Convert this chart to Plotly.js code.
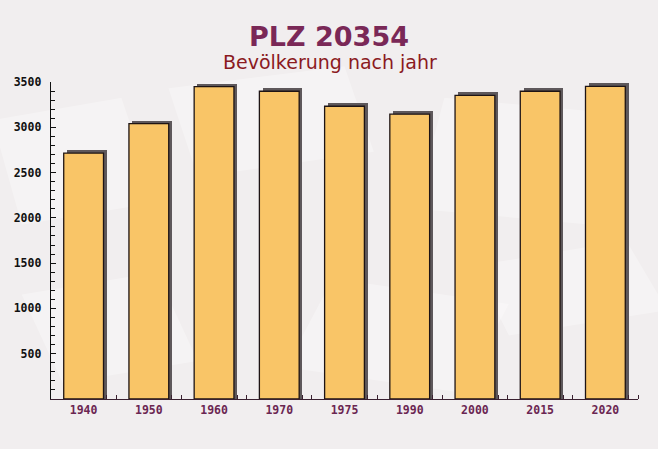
<!DOCTYPE html>
<html>
<head>
<meta charset="utf-8">
<script src="https://cdn.plot.ly/plotly-3.0.1.min.js"></script>
<style>
html,body{margin:0;padding:0;background:#f2eff0;}
#chart{width:658px;height:449px;}
</style>
</head>
<body>
<div id="chart"></div>
<script>
const years = ["1940","1950","1960","1970","1975","1990","2000","2015","2020"];
const population = [2715, 3040, 3450, 3398, 3232, 3145, 3352, 3398, 3452];
const titleText = "PLZ 20354";
const subtitleText = "Bevölkerung nach jahr";

const idx = years.map((_, i) => i);
const barWidth = 0.61;
const shadowDx = 0.05;   // in category units
const shadowDy = 33;     // in value units

const shadow = {
  type: "bar",
  x: idx.map(i => i + shadowDx),
  y: population.map(v => v + shadowDy),
  width: barWidth,
  marker: {color: "#5e585b", line: {width: 0}},
  hoverinfo: "skip",
  showlegend: false
};
const bars = {
  type: "bar",
  x: idx,
  y: population,
  width: barWidth,
  marker: {color: "#f9c567", line: {color: "#1e1414", width: 1.3}},
  showlegend: false
};

const minorX = [];
idx.forEach(i => { minorX.push(i + barWidth / 2 + shadowDx); minorX.push(i + 0.5); });

// faint decorative background sheets (paper coordinates, behind everything)
const deco = [
  "M -0.05 0.55 L 0.18 0.62 L 0.12 0.95 L -0.1 0.88 Z",
  "M 0.25 0.70 L 0.55 0.78 L 0.50 1.05 L 0.20 0.98 Z",
  "M 0.62 0.60 L 0.92 0.55 L 0.97 0.90 L 0.67 0.95 Z",
  "M 0.02 0.05 L 0.25 0.12 L 0.18 0.40 L -0.05 0.33 Z",
  "M 0.40 0.10 L 0.70 0.02 L 0.78 0.30 L 0.48 0.38 Z",
  "M 0.78 0.20 L 1.05 0.28 L 0.98 0.50 L 0.72 0.42 Z"
].map(p => ({type: "path", path: p, xref: "paper", yref: "paper", layer: "below",
             fillcolor: "rgba(255,255,255,0.3)", line: {width: 0}}));

const layout = {
  width: 658, height: 449,
  paper_bgcolor: "#f1eeef",
  plot_bgcolor: "rgba(0,0,0,0)",
  margin: {l: 51, r: 20, t: 82, b: 50},
  barmode: "overlay",
  bargap: 0,
  shapes: deco,
  title: {
    text: "<b>" + titleText + "</b>",
    font: {family: "DejaVu Sans", size: 27, color: "#7a2857"},
    x: 0.5, xref: "container", xanchor: "center",
    y: 1 - 37 / 449, yref: "container", yanchor: "middle"
  },
  annotations: [{
    text: subtitleText,
    xref: "paper", yref: "paper",
    x: 0.475, y: (399 - 62.5) / 317, xanchor: "center", yanchor: "middle",
    showarrow: false,
    font: {family: "DejaVu Sans", size: 19, color: "#8b1a1e"}
  }],
  xaxis: {
    type: "linear",
    range: [-0.5, 8.5],
    tickvals: idx,
    ticktext: years,
    ticks: "",
    showgrid: false,
    zeroline: false,
    showline: true,
    linecolor: "#3a2030",
    linewidth: 1.3,
    tickfont: {family: "DejaVu Sans Mono", size: 11.5, color: "#6b2652", weight: "bold"},
    minor: {tickvals: minorX, ticks: "inside", ticklen: 4, tickcolor: "#3a2030", showgrid: false},
    fixedrange: true
  },
  yaxis: {
    range: [0, 3500],
    tickvals: [500, 1000, 1500, 2000, 2500, 3000, 3500],
    ticks: "inside",
    ticklen: 5,
    tickcolor: "#111",
    showgrid: false,
    zeroline: false,
    showline: true,
    linecolor: "#111",
    linewidth: 1.3,
    ticklabelstandoff: 6,
    tickfont: {family: "DejaVu Sans Mono", size: 11.5, color: "#111", weight: "bold"},
    minor: {dtick: 100, tick0: 0, ticks: "inside", ticklen: 3.5, tickcolor: "#111", showgrid: false},
    fixedrange: true
  }
};

Plotly.newPlot("chart", [shadow, bars], layout, {displayModeBar: false, staticPlot: true});
</script>
</body>
</html>
